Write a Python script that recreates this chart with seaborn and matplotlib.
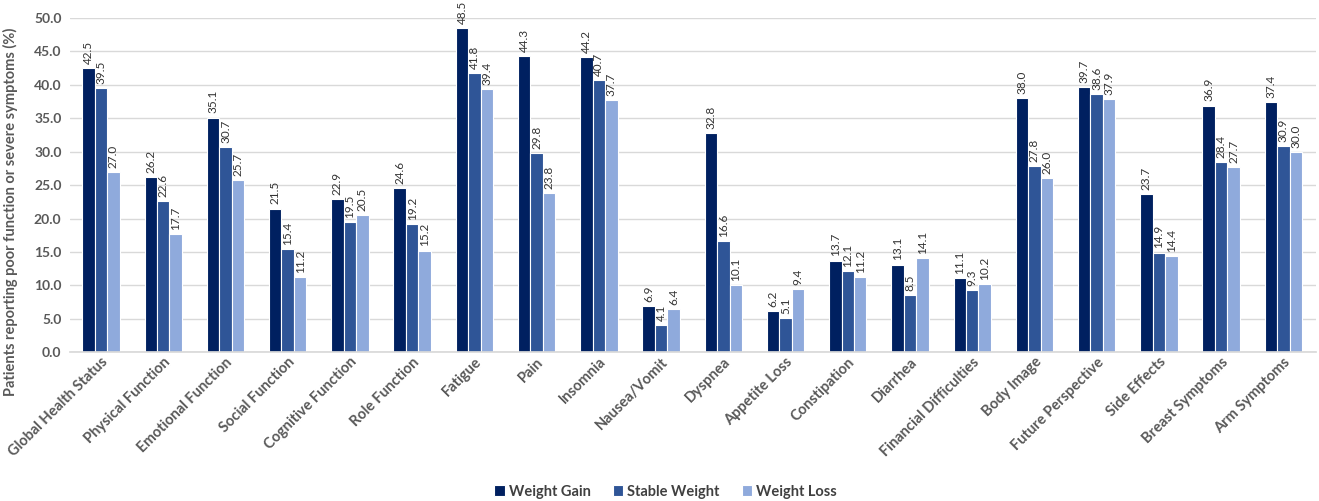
import pandas as pd
import matplotlib.pyplot as plt
import seaborn as sns

# Domains and percentages per weight-change group
domains = ['Global Health Status', 'Physical Function', 'Emotional Function', 'Social Function',
           'Cognitive Function', 'Role Function', 'Fatigue', 'Pain', 'Insomnia', 'Nausea/Vomit',
           'Dyspnea', 'Appetite Loss', 'Constipation', 'Diarrhea', 'Financial Difficulties',
           'Body Image', 'Future Perspective', 'Side Effects', 'Breast Symptoms', 'Arm Symptoms']
weight_gain = [42.5, 26.2, 35.1, 21.5, 22.9, 24.6, 48.5, 44.3, 44.2, 6.9,
               32.8, 6.2, 13.7, 13.1, 11.1, 38.0, 39.7, 23.7, 36.9, 37.4]
stable_weight = [39.5, 22.6, 30.7, 15.4, 19.5, 19.2, 41.8, 29.8, 40.7, 4.1,
                 16.6, 5.1, 12.1, 8.5, 9.3, 27.8, 38.6, 14.9, 28.4, 30.9]
weight_loss = [27.0, 17.7, 25.7, 11.2, 20.5, 15.2, 39.4, 23.8, 37.7, 6.4,
               10.1, 9.4, 11.2, 14.1, 10.2, 26.0, 37.9, 14.4, 27.7, 30.0]
groups = ['Weight Gain', 'Stable Weight', 'Weight Loss']
colors = ['#002060', '#2F5597', '#8FAADC']

df = pd.DataFrame({'Domain': domains * 3,
                   'Group': [g for g in groups for _ in domains],
                   'Value': weight_gain + stable_weight + weight_loss})

sns.set_theme(style='white')
plt.rcParams['font.family'] = ['Lato', 'DejaVu Sans']

fig = plt.figure(figsize=(13.19, 5.01), dpi=100)
ax = fig.add_axes([0.053, 0.297, 0.945, 0.667])

sns.barplot(data=df, x='Domain', y='Value', hue='Group', palette=colors, saturation=1,
            width=0.6, edgecolor='white', linewidth=0.8, ax=ax)

for c in ax.containers:
    ax.bar_label(c, fmt='%.1f', rotation=90, padding=3, fontsize=8.5, color='#333333')

ax.set_ylim(0, 50)
ax.set_yticks(range(0, 55, 5))
ax.set_yticklabels([f'{v:.1f}' for v in range(0, 55, 5)])
ax.set_xlim(-0.5, len(domains) - 0.47)
ax.yaxis.grid(True, color='#d9d9d9', linewidth=1)
ax.set_axisbelow(True)
for s in ['top', 'right', 'left']:
    ax.spines[s].set_visible(False)
ax.spines['bottom'].set_color('#d9d9d9')

ax.set_xlabel('')
ax.set_ylabel('Patients reporting poor function or severe symptoms (%)',
              fontsize=10.5, fontweight='bold', color='#595959')
ax.yaxis.set_label_coords(-0.042, 0.42)
ax.tick_params(axis='y', labelsize=10, labelcolor='#595959', length=0, pad=6)
ax.tick_params(axis='x', labelsize=10.5, labelcolor='#595959', length=0, pad=2)
plt.setp(ax.get_xticklabels(), rotation=45, ha='right', rotation_mode='anchor', fontweight='bold')
plt.setp(ax.get_yticklabels(), fontweight='bold')

ax.legend(loc='center', bbox_to_anchor=(0.478, -0.417), ncol=3, frameon=False,
          handlelength=0.7, handleheight=0.7, handletextpad=0.3, columnspacing=1.5,
          prop={'size': 10.5, 'weight': 'bold'}, labelcolor='#404040')

fig.savefig('out.png', dpi=100)
